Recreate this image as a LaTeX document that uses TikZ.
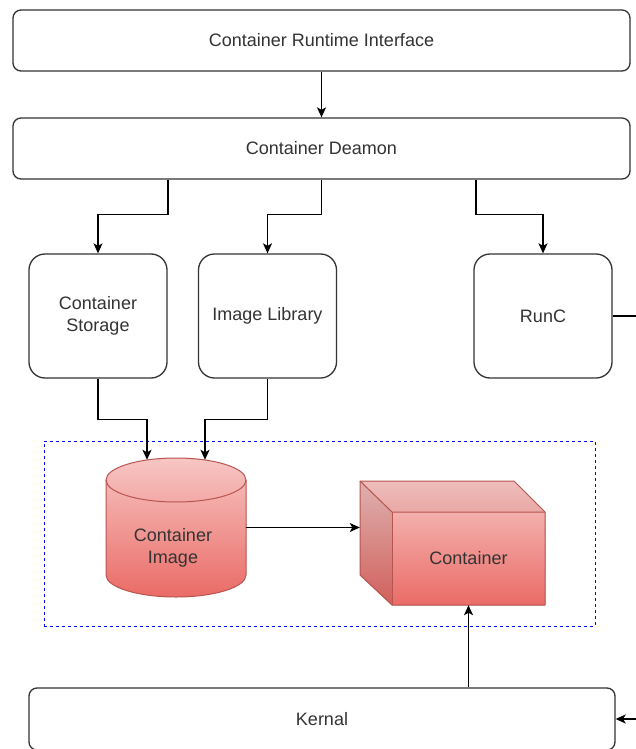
\documentclass[tikz,border=0pt]{standalone}
\usepackage{fontspec}
\setmainfont{Liberation Sans}
\usetikzlibrary{arrows.meta}
\definecolor{ink}{HTML}{333333}
\definecolor{redtop}{HTML}{F7C6C4}
\definecolor{redbot}{HTML}{EA6B66}
\definecolor{redline}{HTML}{B85450}
\begin{document}
\begin{tikzpicture}[x=1pt,y=-1pt,
  lbl/.style={text=ink, font=\fontsize{18}{22}\selectfont, align=center, inner sep=0pt},
  box/.style={lbl, draw=ink, line width=1.3pt, rounded corners=8pt, fill=white},
  tallbox/.style={box, rounded corners=16pt, minimum width=138pt, minimum height=124pt},
  wire/.style={draw=black, line width=1.3pt},
  arr/.style={wire, -{Stealth[length=10pt,width=9pt,inset=2.5pt]}},
  redfill/.style={top color=redtop, bottom color=redbot},
  rededge/.style={draw=redline, line width=1pt, line join=round}]
\useasboundingbox (0,0) rectangle (635,749);
\fill[white] (0,0) rectangle (635,749);

% top layers
\node[box, minimum width=617pt, minimum height=61pt] (cri) at (321.5,40.5) {Container Runtime Interface};
\node[box, minimum width=617pt, minimum height=61pt] (deamon) at (321.5,148.5) {Container Deamon};

% components
\node[tallbox] (storage) at (98,316) {Container\\Storage};
\node[tallbox] (library) at (267.5,316) {Image Library};
\node[tallbox] (runc) at (543,316) {RunC};

% kernel bar, running past the lower edge
\node[box, minimum width=586pt, minimum height=62pt] (kernal) at (322,719) {Kernal};

% dashed group around image and container
\node[draw=blue, line width=1pt, dash pattern=on 3pt off 3pt, minimum width=551pt, minimum height=185pt, inner sep=0pt] (grp) at (319.5,533.5) {};

% cylinder: Container Image
\node[minimum width=140pt, minimum height=139pt, inner sep=0pt] (cyl) at (176,527.5) {};
\path[redfill, rededge] (106,480) -- (106,575)
  arc[start angle=180, end angle=360, x radius=70pt, y radius=22pt]
  -- (246,480)
  arc[start angle=0, end angle=180, x radius=70pt, y radius=22pt] -- cycle;
\draw[rededge] (106,480) arc[start angle=180, end angle=360, x radius=70pt, y radius=22pt];
\node[lbl] (cyllabel) at (173,548) {Container\\Image};

% cube: Container
\node[minimum width=185pt, minimum height=124pt, inner sep=0pt] (cube) at (452.5,543) {};
\fill[redfill] (360,481) -- (514,481) -- (545,512) -- (545,605) -- (392,605) -- (360,575) -- cycle;
\fill[black, opacity=0.10] (360,481) -- (392,512) -- (392,605) -- (360,575) -- cycle;
\fill[black, opacity=0.04] (360,481) -- (514,481) -- (545,512) -- (392,512) -- cycle;
\draw[rededge] (360,481) -- (514,481) -- (545,512) -- (545,605) -- (392,605) -- (360,575) -- cycle;
\draw[rededge] (360,481) -- (392,512) -- (545,512);
\draw[rededge] (392,512) -- (392,605);
\node[lbl, minimum width=153pt, minimum height=93pt] (front) at (468.5,558.5) {Container};

% connectors
\draw[arr] (cri) -- (deamon);
\draw[arr] ([xshift=-153.5pt]deamon.south) -- ++(0,35) -| (storage.north);
\draw[arr] (deamon.south) -- ++(0,35) -| (library.north);
\draw[arr] ([xshift=154.5pt]deamon.south) -- ++(0,35) -| (runc.north);
\draw[arr] (storage.south) -- ++(0,41) -| ([shift={(-29,2)}]cyl.north);
\draw[arr] (library.south) -- ++(0,41) -| ([shift={(29,2)}]cyl.north);
\draw[arr] (cyl.east) -- (cyl.east -| cube.west);
\draw[arr] (kernal.north -| front.south) -- (front.south);

\coordinate (runcout) at (640,316);
\draw[wire] (runc.east) -- (runcout);
\coordinate (kernalin) at (640,719);
\draw[arr] (kernalin) -- (kernal.east);
\end{tikzpicture}
\end{document}
